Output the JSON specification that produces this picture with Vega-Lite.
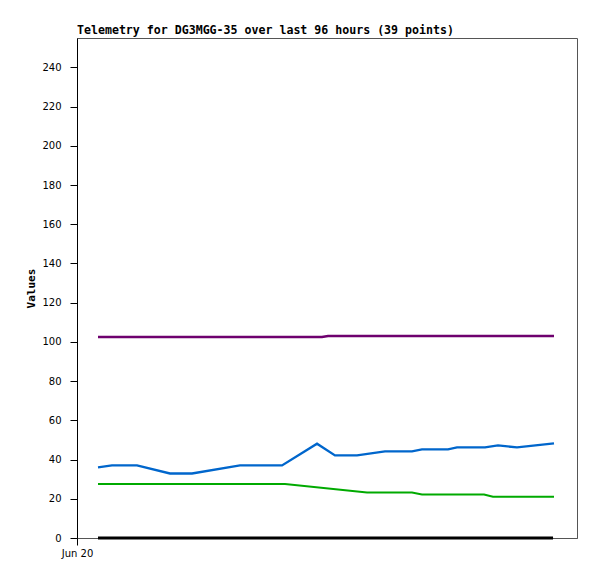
{
  "$schema": "https://vega.github.io/schema/vega-lite/v6.json",
  "width": 500,
  "height": 500,
  "autosize": "none",
  "padding": {"left": 77, "top": 38, "right": 20, "bottom": 41},
  "background": "white",
  "title": {
    "text": "Telemetry for DG3MGG-35 over last 96 hours (39 points)",
    "anchor": "start",
    "frame": "group",
    "font": "DejaVu Sans Mono",
    "fontSize": 11.6,
    "fontWeight": "bold",
    "color": "#000000",
    "offset": 1
  },
  "config": {
    "view": {"stroke": "#555555", "strokeWidth": 1},
    "axis": {
      "labelFont": "DejaVu Sans",
      "labelFontSize": 10,
      "labelColor": "#000000",
      "tickColor": "#000000",
      "grid": false
    }
  },
  "data": {
    "values": [
      {"s": "a", "t": "2024-06-20T04:02", "v": 0},
      {"s": "a", "t": "2024-06-23T19:24", "v": 0},
      {"s": "b", "t": "2024-06-20T04:02", "v": 102.5},
      {"s": "b", "t": "2024-06-21T23:02", "v": 102.5},
      {"s": "b", "t": "2024-06-22T00:12", "v": 103},
      {"s": "b", "t": "2024-06-23T19:35", "v": 103},
      {"s": "c", "t": "2024-06-20T04:02", "v": 36.0},
      {"s": "c", "t": "2024-06-20T06:43", "v": 37.0},
      {"s": "c", "t": "2024-06-20T11:31", "v": 37.0},
      {"s": "c", "t": "2024-06-20T17:51", "v": 32.9},
      {"s": "c", "t": "2024-06-20T22:05", "v": 32.9},
      {"s": "c", "t": "2024-06-21T07:18", "v": 37.0},
      {"s": "c", "t": "2024-06-21T15:22", "v": 37.0},
      {"s": "c", "t": "2024-06-21T22:05", "v": 48.1},
      {"s": "c", "t": "2024-06-22T01:32", "v": 42.1},
      {"s": "c", "t": "2024-06-22T05:46", "v": 42.1},
      {"s": "c", "t": "2024-06-22T11:08", "v": 44.2},
      {"s": "c", "t": "2024-06-22T16:19", "v": 44.2},
      {"s": "c", "t": "2024-06-22T18:14", "v": 45.2},
      {"s": "c", "t": "2024-06-22T23:14", "v": 45.2},
      {"s": "c", "t": "2024-06-23T00:58", "v": 46.2},
      {"s": "c", "t": "2024-06-23T06:20", "v": 46.2},
      {"s": "c", "t": "2024-06-23T08:50", "v": 47.2},
      {"s": "c", "t": "2024-06-23T12:29", "v": 46.2},
      {"s": "c", "t": "2024-06-23T19:35", "v": 48.3},
      {"s": "d", "t": "2024-06-20T04:02", "v": 27.6},
      {"s": "d", "t": "2024-06-21T15:56", "v": 27.6},
      {"s": "d", "t": "2024-06-22T07:41", "v": 23.2},
      {"s": "d", "t": "2024-06-22T16:19", "v": 23.2},
      {"s": "d", "t": "2024-06-22T18:14", "v": 22.2},
      {"s": "d", "t": "2024-06-23T06:09", "v": 22.2},
      {"s": "d", "t": "2024-06-23T07:52", "v": 21.1},
      {"s": "d", "t": "2024-06-23T19:35", "v": 21.1}
    ]
  },
  "mark": {"type": "line", "interpolate": "linear"},
  "encoding": {
    "x": {
      "field": "t",
      "type": "temporal",
      "scale": {
        "domain": [
          {"year": 2024, "month": "jun", "date": 20, "hours": 0},
          {"year": 2024, "month": "jun", "date": 24, "hours": 0}
        ]
      },
      "axis": {
        "values": [{"year": 2024, "month": "jun", "date": 20, "hours": 0}],
        "format": "%b %d",
        "title": null,
        "tickSize": 7,
        "labelPadding": 3,
        "domainColor": "#555555",
        "labelFlush": false
      }
    },
    "y": {
      "field": "v",
      "type": "quantitative",
      "scale": {"domain": [0, 255], "nice": false, "zero": true},
      "axis": {
        "values": [0, 20, 40, 60, 80, 100, 120, 140, 160, 180, 200, 220, 240],
        "title": "Values",
        "titleFont": "DejaVu Sans Mono",
        "titleFontSize": 11,
        "titleFontWeight": "bold",
        "titleColor": "#000000",
        "titlePadding": 5,
        "tickSize": 7,
        "labelPadding": 9,
        "domainColor": "#000000"
      }
    },
    "color": {
      "field": "s",
      "type": "nominal",
      "scale": {"domain": ["a", "b", "c", "d"], "range": ["#000000", "#6e006e", "#0066cc", "#00aa00"]},
      "legend": null
    },
    "strokeWidth": {
      "field": "s",
      "type": "nominal",
      "scale": {"domain": ["a", "b", "c", "d"], "range": [3, 2, 2, 2]},
      "legend": null
    }
  }
}
